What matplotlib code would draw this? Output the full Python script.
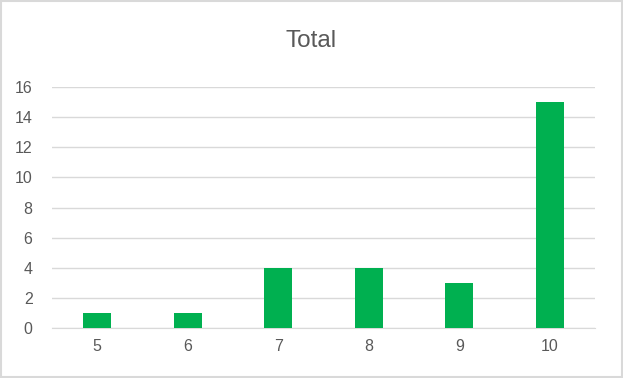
import matplotlib
matplotlib.use("Agg")
import matplotlib.pyplot as plt

categories = ["5", "6", "7", "8", "9", "10"]
totals = [1, 1, 4, 4, 3, 15]
y_ticks = [0, 2, 4, 6, 8, 10, 12, 14, 16]

plt.rcParams['font.family'] = ['Liberation Sans', 'DejaVu Sans']

fig = plt.figure(figsize=(6.23, 3.78), dpi=100)
ax = fig.add_axes([0.0835, 0.1323, 0.872, 0.6375])

x = range(len(categories))
ax.bar(x, totals, width=0.31, color="#00b050", zorder=3)

ax.set_xlim(-0.5, len(categories) - 0.5)
ax.set_ylim(0, 16)
ax.set_yticks(y_ticks)
ax.set_xticks(list(x))
ax.set_xticklabels(categories)
ax.grid(axis="y", color="#d9d9d9", linewidth=1, zorder=0)

for s in ["top", "right", "left"]:
    ax.spines[s].set_visible(False)
ax.spines["bottom"].set_color("#d9d9d9")
ax.tick_params(length=0, labelsize=11.5, labelcolor="#595959")
ax.tick_params(axis="y", pad=14)
ax.tick_params(axis="x", pad=8)

fig.text(0.5, 0.892, "Total", ha="center", va="center", fontsize=17.5, color="#595959")

# light outer border like the Excel chart area
fig.patches.append(plt.Rectangle((0.001, 0.002), 0.997, 0.995, transform=fig.transFigure,
                                 fill=False, edgecolor="#d9d9d9", linewidth=1.5))

fig.savefig("out.png", dpi=100)
